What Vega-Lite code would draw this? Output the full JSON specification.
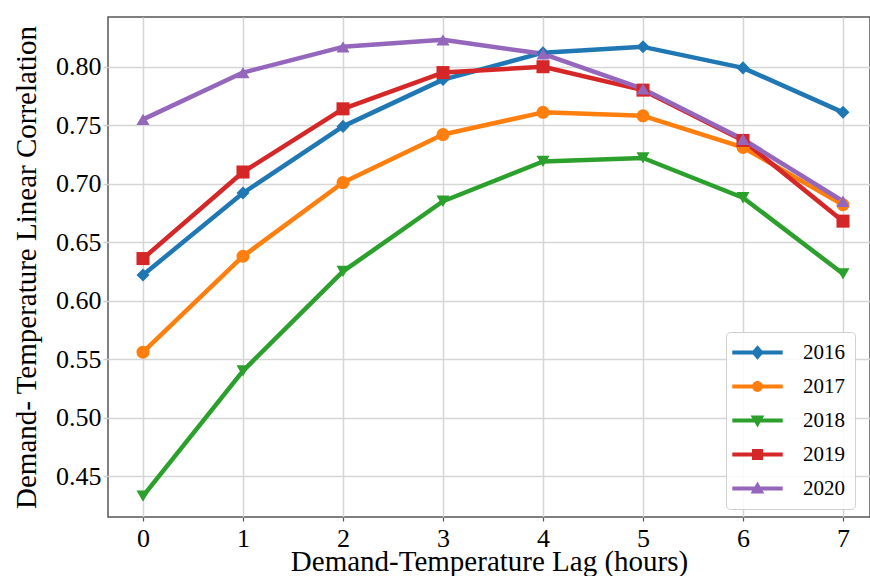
{
  "$schema": "https://vega.github.io/schema/vega-lite/v6.json",
  "width": 762,
  "height": 500,
  "autosize": "none",
  "padding": {"left": 108, "top": 17, "right": 0, "bottom": 59},
  "background": "white",
  "config": {
    "view": {"stroke": "#555555", "strokeWidth": 1.5},
    "font": "Liberation Serif",
    "axis": {
      "labelFont": "Liberation Serif",
      "titleFont": "Liberation Serif",
      "labelColor": "black",
      "titleColor": "black",
      "labelFontSize": 26,
      "titleFontSize": 29,
      "titleFontWeight": "normal",
      "gridColor": "#d6d6d6",
      "gridWidth": 1.5,
      "domain": false
    },
    "legend": {
      "orient": "none",
      "legendX": 618,
      "legendY": 315,
      "labelFont": "Liberation Serif",
      "labelFontSize": 21,
      "labelColor": "black",
      "fillColor": "rgba(255,255,255,0.85)",
      "strokeColor": "#d0d0d0",
      "cornerRadius": 4,
      "padding": 10,
      "rowPadding": 12,
      "symbolOffset": 11,
      "labelOffset": 35,
      "symbolSize": 144,
      "symbolStrokeWidth": 0
    }
  },
  "data": {
    "values": [
      {"lag": 0, "year": "2016", "r": 0.622}, {"lag": 1, "year": "2016", "r": 0.692}, {"lag": 2, "year": "2016", "r": 0.749}, {"lag": 3, "year": "2016", "r": 0.789}, {"lag": 4, "year": "2016", "r": 0.812}, {"lag": 5, "year": "2016", "r": 0.817}, {"lag": 6, "year": "2016", "r": 0.799}, {"lag": 7, "year": "2016", "r": 0.761},
      {"lag": 0, "year": "2017", "r": 0.556}, {"lag": 1, "year": "2017", "r": 0.638}, {"lag": 2, "year": "2017", "r": 0.701}, {"lag": 3, "year": "2017", "r": 0.742}, {"lag": 4, "year": "2017", "r": 0.761}, {"lag": 5, "year": "2017", "r": 0.758}, {"lag": 6, "year": "2017", "r": 0.731}, {"lag": 7, "year": "2017", "r": 0.682},
      {"lag": 0, "year": "2018", "r": 0.433}, {"lag": 1, "year": "2018", "r": 0.540}, {"lag": 2, "year": "2018", "r": 0.625}, {"lag": 3, "year": "2018", "r": 0.685}, {"lag": 4, "year": "2018", "r": 0.719}, {"lag": 5, "year": "2018", "r": 0.722}, {"lag": 6, "year": "2018", "r": 0.688}, {"lag": 7, "year": "2018", "r": 0.623},
      {"lag": 0, "year": "2019", "r": 0.636}, {"lag": 1, "year": "2019", "r": 0.710}, {"lag": 2, "year": "2019", "r": 0.764}, {"lag": 3, "year": "2019", "r": 0.795}, {"lag": 4, "year": "2019", "r": 0.800}, {"lag": 5, "year": "2019", "r": 0.780}, {"lag": 6, "year": "2019", "r": 0.737}, {"lag": 7, "year": "2019", "r": 0.668},
      {"lag": 0, "year": "2020", "r": 0.755}, {"lag": 1, "year": "2020", "r": 0.795}, {"lag": 2, "year": "2020", "r": 0.817}, {"lag": 3, "year": "2020", "r": 0.823}, {"lag": 4, "year": "2020", "r": 0.811}, {"lag": 5, "year": "2020", "r": 0.781}, {"lag": 6, "year": "2020", "r": 0.738}, {"lag": 7, "year": "2020", "r": 0.685}
    ]
  },
  "encoding": {
    "x": {
      "field": "lag", "type": "quantitative",
      "scale": {"domain": [-0.35, 7.27], "nice": false, "zero": false},
      "axis": {
        "title": "Demand-Temperature Lag (hours)",
        "values": [0, 1, 2, 3, 4, 5, 6, 7],
        "format": "d",
        "tickColor": "#555555", "tickSize": 4, "tickWidth": 1.2,
        "labelPadding": 4,
        "titlePadding": -4,
        "labelFlush": false
      }
    },
    "y": {
      "field": "r", "type": "quantitative",
      "scale": {"domain": [0.4151, 0.8425], "nice": false, "zero": false},
      "axis": {
        "title": "Demand- Temperature Linear Correlation",
        "values": [0.45, 0.5, 0.55, 0.6, 0.65, 0.7, 0.75, 0.8],
        "format": ".2f",
        "tickColor": "#cfcfcf", "tickSize": 5, "tickWidth": 1.5,
        "labelPadding": 2,
        "titlePadding": 14,
        "labelFlush": false
      }
    },
    "color": {
      "field": "year", "type": "nominal", "title": null,
      "scale": {
        "domain": ["2016", "2017", "2018", "2019", "2020"],
        "range": ["#1f77b4", "#ff7f0e", "#2ca02c", "#d62728", "#9467bd"]
      },
      "legend": {
        "encode": {
          "symbols": {
            "update": {
              "size": {"value": 144},
              "strokeWidth": {"value": 0},
              "opacity": {"value": 1},
              "shape": {"signal": "datum.value === '2016' ? 'M-4.2,-0.35H4.2V0.35H-4.2Z M0,-1.2L1.05,0L0,1.2L-1.05,0Z' : datum.value === '2017' ? 'M-4.2,-0.35H4.2V0.35H-4.2Z M-0.9,0A0.9,0.9,0,1,1,0.9,0A0.9,0.9,0,1,1,-0.9,0Z' : datum.value === '2018' ? 'M-4.2,-0.35H4.2V0.35H-4.2Z M-1.15,-0.85L1.15,-0.85L0,1.15Z' : datum.value === '2019' ? 'M-4.2,-0.35H4.2V0.35H-4.2Z M-0.92,-0.92H0.92V0.92H-0.92Z' : 'M-4.2,-0.35H4.2V0.35H-4.2Z M0,-1.15L1.15,0.85L-1.15,0.85Z'"}
            }
          }
        }
      }
    }
  },
  "layer": [
    {
      "mark": {"type": "line", "strokeWidth": 4.5, "strokeCap": "round", "strokeJoin": "round"}
    },
    {
      "mark": {"type": "point", "filled": true, "opacity": 1, "size": 170},
      "encoding": {
        "shape": {
          "field": "year", "type": "nominal", "title": null,
          "scale": {
            "domain": ["2020", "2019", "2018", "2017", "2016"],
            "range": ["triangle-up", "square", "triangle-down", "circle", "diamond"]
          },
          "legend": null
        }
      }
    }
  ]
}
